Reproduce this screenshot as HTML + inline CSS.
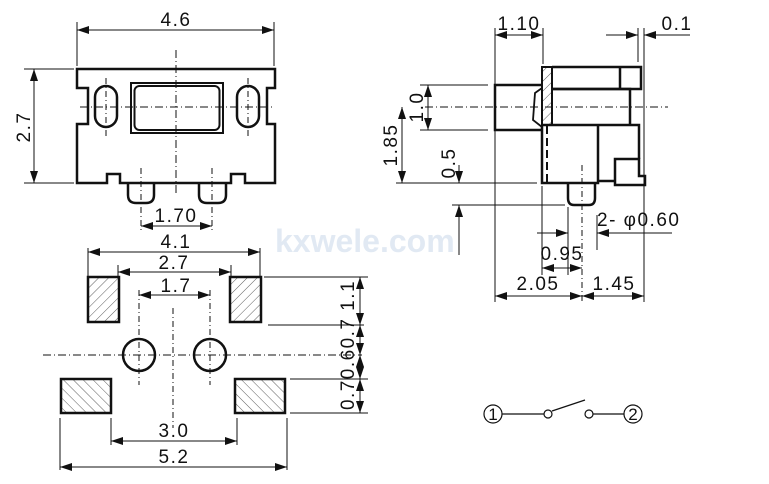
<!DOCTYPE html>
<html><head><meta charset="utf-8"><style>
html,body{margin:0;padding:0;background:#fff;}
svg{display:block;}
text{font-family:"Liberation Sans",Arial,sans-serif;font-size:19px;fill:#111;letter-spacing:1.5px;}
</style></head><body>
<svg width="769" height="484" viewBox="0 0 769 484" xmlns="http://www.w3.org/2000/svg">
<defs>
<marker id="a" viewBox="0 0 12 8" refX="12" refY="4" markerWidth="12" markerHeight="8" markerUnits="userSpaceOnUse" orient="auto-start-reverse"><path d="M0,0 L12,4 L0,8 z" fill="#111"/></marker>
<pattern id="hb" width="7" height="7" patternUnits="userSpaceOnUse" patternTransform="rotate(45)"><line x1="0" y1="0" x2="0" y2="7" stroke="#333" stroke-width="0.8"/></pattern>
<pattern id="hf" width="7" height="7" patternUnits="userSpaceOnUse" patternTransform="rotate(-45)"><line x1="0" y1="0" x2="0" y2="7" stroke="#333" stroke-width="0.8"/></pattern>
</defs>

<text x="275" y="252" style="font-size:32px;font-weight:bold;fill:#e1e9f3;letter-spacing:0">kxwele.com</text>

<g fill="none" stroke="#111">
<g stroke-width="1">
<line x1="77" y1="22" x2="77" y2="66"/><line x1="274" y1="22" x2="274" y2="66"/>
<line x1="77" y1="30" x2="274" y2="30" marker-start="url(#a)" marker-end="url(#a)"/>
<line x1="24" y1="69" x2="74" y2="69"/><line x1="24" y1="183" x2="74" y2="183"/>
<line x1="34" y1="69" x2="34" y2="183" marker-start="url(#a)" marker-end="url(#a)"/>
<line x1="141" y1="168" x2="141" y2="232" stroke-dasharray="6,3,1,3"/>
<line x1="212" y1="168" x2="212" y2="232" stroke-dasharray="6,3,1,3"/>
<line x1="141" y1="226" x2="212" y2="226" marker-start="url(#a)" marker-end="url(#a)"/>
<line x1="80" y1="107" x2="272" y2="107" stroke-dasharray="8,3,1,3"/>
<line x1="176" y1="50" x2="176" y2="196" stroke-dasharray="8,3,1,3"/>
<line x1="106" y1="78" x2="106" y2="136" stroke-dasharray="6,3,1,3"/>
<line x1="248" y1="78" x2="248" y2="136" stroke-dasharray="6,3,1,3"/>
</g>
<g stroke-width="2.5">
<path d="M77,69 H275 V88 H267 V124 H275 V183 H245 V174 H231 V183 H120 V174 H107 V183 H77 V124 H88 V88 H77 Z"/>
<path d="M128,183 V195 Q128,203 136,203 H146 Q154,203 154,195 V183"/>
<path d="M199,183 V195 Q199,203 207,203 H218 Q226,203 226,195 V183"/>
<rect x="95" y="86" width="22" height="41" rx="11"/>
<rect x="237" y="86" width="22" height="41" rx="11"/>
<rect x="131" y="83" width="92" height="50" stroke-width="2"/>
<rect x="134.5" y="86" width="85" height="44" rx="5" stroke-width="2"/>
</g>

<g stroke-width="1">
<line x1="88" y1="248" x2="88" y2="276"/><line x1="260" y1="248" x2="260" y2="276"/>
<line x1="88" y1="252" x2="260" y2="252" marker-start="url(#a)" marker-end="url(#a)"/>
<line x1="118" y1="265" x2="118" y2="276"/><line x1="231" y1="265" x2="231" y2="276"/>
<line x1="118" y1="272" x2="231" y2="272" marker-start="url(#a)" marker-end="url(#a)"/>
<line x1="139" y1="290" x2="139" y2="385" stroke-dasharray="6,3,1,3"/>
<line x1="210" y1="290" x2="210" y2="385" stroke-dasharray="6,3,1,3"/>
<line x1="139" y1="295" x2="210" y2="295" marker-start="url(#a)" marker-end="url(#a)"/>
<line x1="43" y1="355" x2="362" y2="355" stroke-dasharray="8,3,1,3"/>
<line x1="173" y1="308" x2="173" y2="428" stroke-dasharray="6,3,1,3"/>
<line x1="111" y1="418" x2="111" y2="445"/><line x1="237" y1="418" x2="237" y2="445"/>
<line x1="111" y1="441" x2="237" y2="441" marker-start="url(#a)" marker-end="url(#a)"/>
<line x1="60" y1="418" x2="60" y2="470"/><line x1="287" y1="418" x2="287" y2="470"/>
<line x1="60" y1="467" x2="287" y2="467" marker-start="url(#a)" marker-end="url(#a)"/>
<line x1="264" y1="277" x2="368" y2="277"/>
<line x1="268" y1="325" x2="364" y2="325"/>
<line x1="290" y1="379" x2="368" y2="379"/>
<line x1="290" y1="413" x2="368" y2="413"/>
<line x1="360" y1="277" x2="360" y2="325" marker-start="url(#a)" marker-end="url(#a)"/>
<line x1="360" y1="325" x2="360" y2="355" marker-start="url(#a)" marker-end="url(#a)"/>
<line x1="360" y1="355" x2="360" y2="379" marker-start="url(#a)" marker-end="url(#a)"/>
<line x1="360" y1="379" x2="360" y2="413" marker-start="url(#a)" marker-end="url(#a)"/>
</g>
<g stroke-width="2.5">
<rect x="88" y="277" width="31" height="45" fill="url(#hb)"/>
<rect x="230" y="277" width="31" height="45" fill="url(#hb)"/>
<rect x="61" y="379" width="50" height="34" fill="url(#hf)"/>
<rect x="235" y="379" width="50" height="34" fill="url(#hf)"/>
<circle cx="139" cy="355" r="16"/>
<circle cx="210" cy="355" r="16"/>
</g>

<g stroke-width="1">
<line x1="495" y1="28" x2="495" y2="302"/><line x1="543" y1="28" x2="543" y2="64"/>
<line x1="495" y1="35" x2="543" y2="35" marker-start="url(#a)" marker-end="url(#a)"/>
<line x1="638" y1="28" x2="638" y2="62"/><line x1="644" y1="28" x2="644" y2="302"/>
<line x1="606" y1="35" x2="638" y2="35" marker-end="url(#a)"/>
<line x1="690" y1="35" x2="644" y2="35" marker-end="url(#a)"/>
<line x1="425" y1="107" x2="668" y2="107" stroke-dasharray="8,3,1,3"/>
<line x1="420" y1="85" x2="488" y2="85"/><line x1="420" y1="130" x2="488" y2="130"/>
<line x1="428" y1="85" x2="428" y2="130" marker-start="url(#a)" marker-end="url(#a)"/>
<line x1="396" y1="183" x2="537" y2="183"/>
<line x1="402" y1="107" x2="402" y2="183" marker-start="url(#a)" marker-end="url(#a)"/>
<line x1="452" y1="205" x2="565" y2="205"/>
<line x1="459" y1="165" x2="459" y2="183" marker-end="url(#a)"/>
<line x1="459" y1="255" x2="459" y2="205" marker-end="url(#a)"/>
<line x1="582" y1="165" x2="582" y2="302" stroke-dasharray="6,3,1,3"/>
<line x1="568" y1="207" x2="568" y2="275"/><line x1="597" y1="215" x2="597" y2="250"/>
<line x1="537" y1="233" x2="568" y2="233" marker-end="url(#a)"/>
<line x1="672" y1="233" x2="597" y2="233" marker-end="url(#a)"/>
<line x1="542" y1="186" x2="542" y2="275"/>
<line x1="542" y1="268" x2="582" y2="268" marker-start="url(#a)" marker-end="url(#a)"/>
<line x1="495" y1="296" x2="582" y2="296" marker-start="url(#a)" marker-end="url(#a)"/>
<line x1="582" y1="296" x2="644" y2="296" marker-start="url(#a)" marker-end="url(#a)"/>
</g>
<g stroke-width="2.5">
<rect x="542" y="67" width="10" height="58" fill="url(#hb)" stroke-width="2"/>
<path d="M552,67 H641 V89 H552"/>
<line x1="620" y1="67" x2="620" y2="89"/>
<path d="M552,89 H630 V125"/>
<path d="M542,125 H639 V159"/>
<path d="M542,125 V183 H598 V125"/>
<path d="M598,181 H615 V159 H639 V176 H645 V185 H615 V176"/>
<path d="M542,85 H495 V130 H542"/>
<path d="M542,88 L535,93 L533,120 L542,127" stroke-width="1.8"/>
<line x1="547" y1="126" x2="547" y2="183" stroke-dasharray="8,4" stroke-width="2"/>
<path d="M568,183 V198 Q568,205 574,205 H589 Q595,205 595,198 V183"/>
</g>

<g stroke-width="1.2">
<circle cx="493" cy="414" r="9"/>
<line x1="502" y1="414" x2="544" y2="414"/>
<circle cx="548" cy="414" r="4"/>
<line x1="552" y1="411" x2="585" y2="400"/>
<circle cx="589" cy="414" r="4"/>
<line x1="593" y1="414" x2="624" y2="414"/>
<circle cx="633" cy="414" r="9"/>
</g>
</g>

<g>
<text x="176" y="26" text-anchor="middle">4.6</text>
<text transform="translate(30,127) rotate(-90)" text-anchor="middle">2.7</text>
<text x="176" y="222" text-anchor="middle">1.70</text>
<text x="176" y="248" text-anchor="middle">4.1</text>
<text x="174" y="269" text-anchor="middle">2.7</text>
<text x="176" y="292" text-anchor="middle">1.7</text>
<text x="174" y="437" text-anchor="middle">3.0</text>
<text x="174" y="463" text-anchor="middle">5.2</text>
<text transform="translate(354,345) rotate(-90)" text-anchor="middle" textLength="130" lengthAdjust="spacingAndGlyphs">0.70.60.7 1.1</text>
<text x="519" y="30" text-anchor="middle">1.10</text>
<text x="677" y="30" text-anchor="middle">0.1</text>
<text transform="translate(423,107) rotate(-90)" text-anchor="middle">1.0</text>
<text transform="translate(397,145) rotate(-90)" text-anchor="middle">1.85</text>
<text transform="translate(455,163) rotate(-90)" text-anchor="middle">0.5</text>
<text x="597" y="226">2- φ0.60</text>
<text x="562" y="260" text-anchor="middle">0.95</text>
<text x="538" y="290" text-anchor="middle">2.05</text>
<text x="614" y="290" text-anchor="middle">1.45</text>
<text x="493" y="420" text-anchor="middle" style="font-size:17px;letter-spacing:0">1</text>
<text x="633" y="420" text-anchor="middle" style="font-size:17px;letter-spacing:0">2</text>
</g>
</svg>
</body></html>
